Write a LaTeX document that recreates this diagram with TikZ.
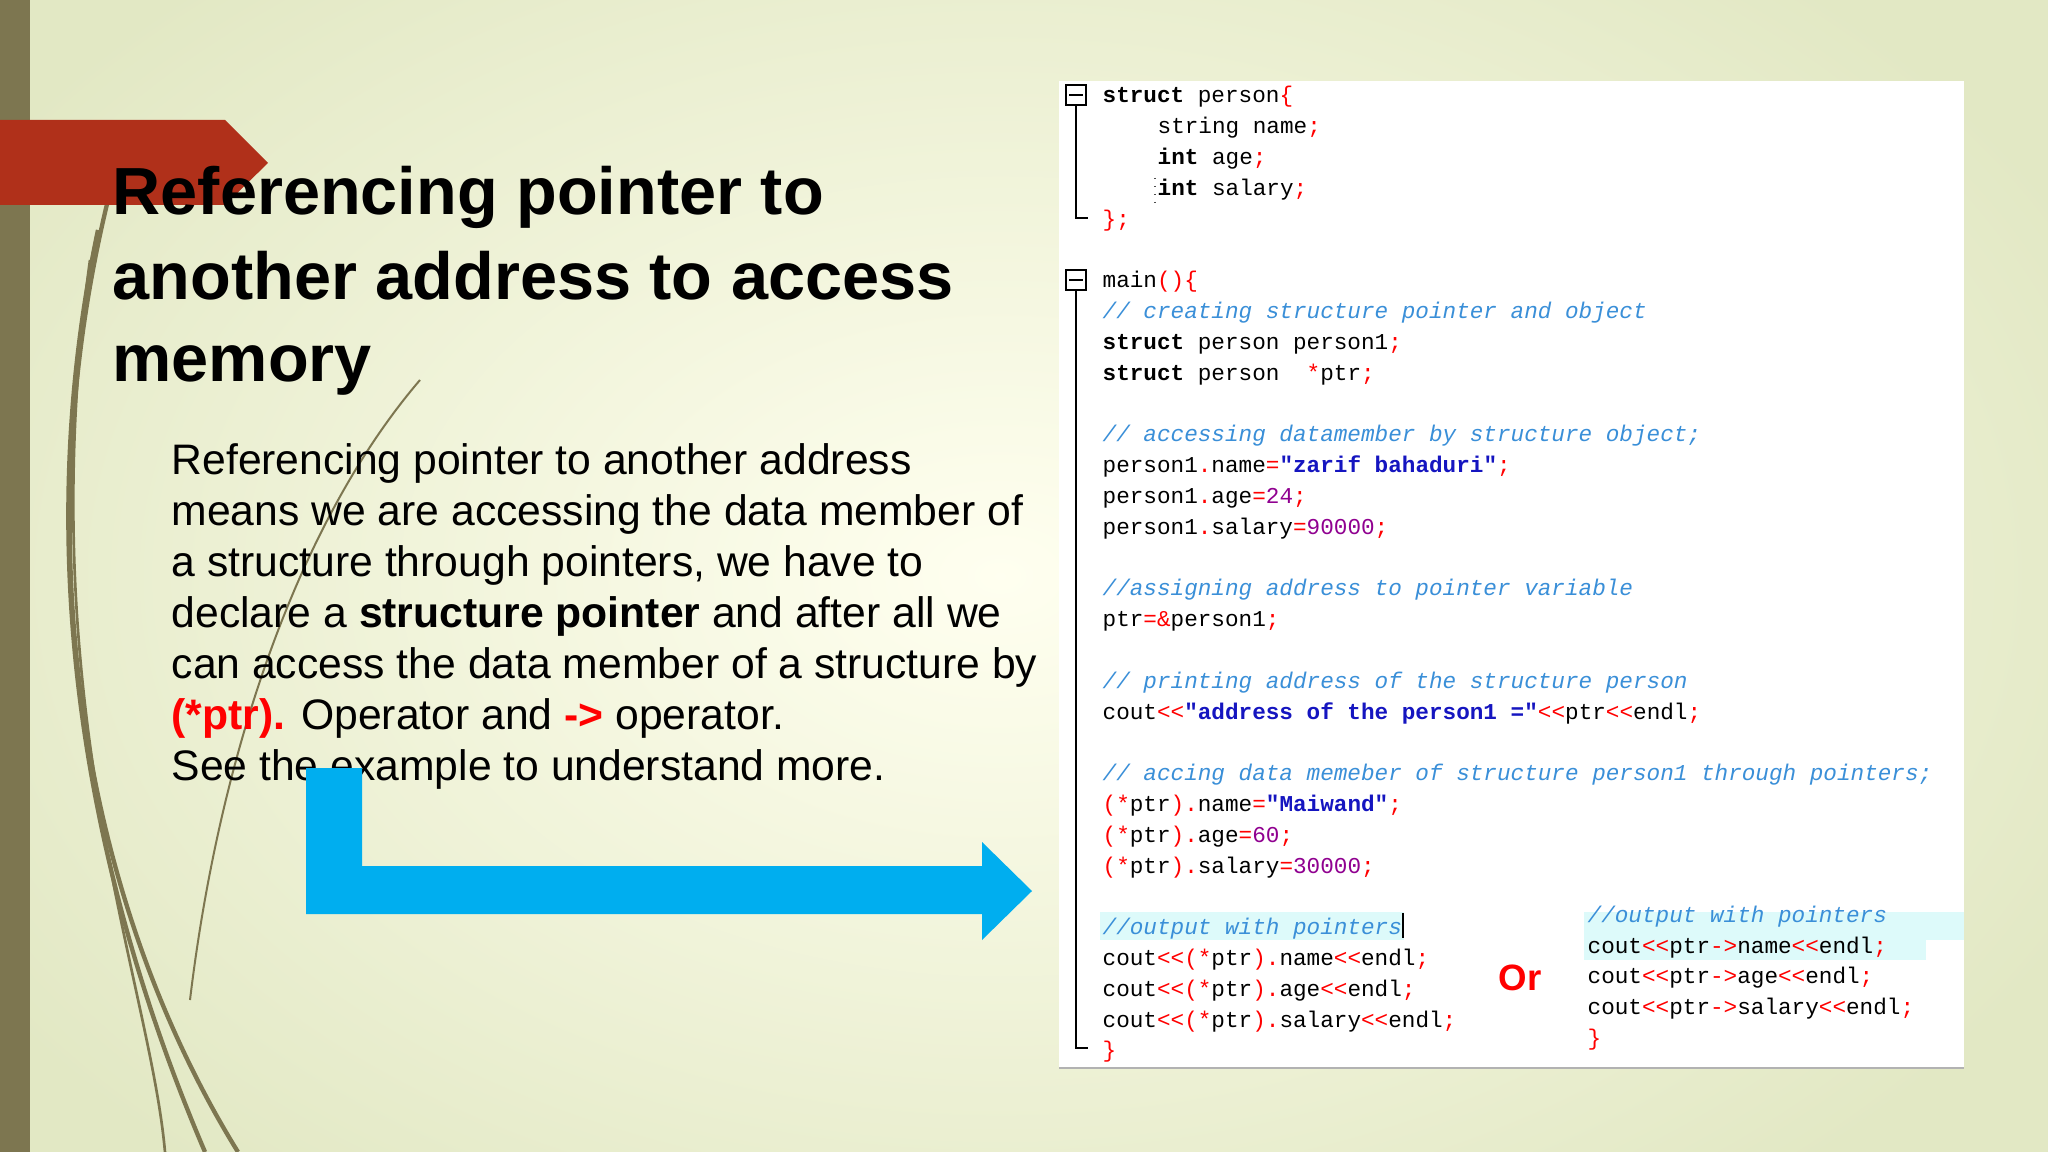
\documentclass[tikz,border=0pt]{standalone}
\usepackage{fontspec}
\setmainfont{Liberation Sans}
\setmonofont{Liberation Mono}
\definecolor{olive}{HTML}{7D7650}
\definecolor{ribbon}{HTML}{B0301A}
\definecolor{arrowblue}{HTML}{00AEEF}
\definecolor{cmt}{HTML}{3A8FD8}
\definecolor{strc}{HTML}{1515C0}
\definecolor{numc}{HTML}{900090}
\definecolor{hl}{HTML}{DDFAFA}
\newcommand{\kw}[1]{\textbf{#1}}
\newcommand{\cmx}[1]{\textcolor{cmt}{\itshape #1}}
\newcommand{\rp}[1]{\textcolor{red}{#1}}
\newcommand{\stq}[1]{\textcolor{strc}{\bfseries #1}}
\newcommand{\nmq}[1]{\textcolor{numc}{#1}}
\tikzset{codeline/.style={anchor=base west,inner sep=0pt,font=\ttfamily\fontsize{6.8}{8}\selectfont},
bodyline/.style={anchor=base west,inner sep=0pt,font=\fontsize{12.8}{15}\selectfont},
titleline/.style={anchor=base west,inner sep=0pt,font=\bfseries\fontsize{20}{24}\selectfont},
deco/.style={draw=olive,line width=1.3pt}}
\begin{document}
\begin{tikzpicture}[x=0.3pt,y=-0.3pt]
\useasboundingbox (0,0) rectangle (2048,1152);
\fill[color={rgb,255:red,226;green,232;blue,196}] (0,0) rectangle (2048,1152);
\shade[inner color=white!94!yellow, outer color={rgb,255:red,226;green,232;blue,196}] (1000,576) ellipse (1200 and 800);
\fill[olive] (0,0) rectangle (30,1152);
% decorative curves
\draw[deco] (108,200) .. controls (30,520) and (70,880) .. (238,1152);
\draw[deco] (98,230) .. controls (20,600) and (110,930) .. (205,1152);
\draw[deco,line width=0.8pt] (90,260) .. controls (30,700) and (150,980) .. (165,1152);
\draw[deco,line width=0.6pt] (420,380) .. controls (300,520) and (220,750) .. (190,1000);
% ribbon
\fill[ribbon] (0,120) -- (225,120) -- (268,163) -- (225,205) -- (0,205) -- cycle;
% title
\node[titleline] (t1) at (112,215) {Referencing pointer to};
\node[titleline] (t2) at (112,300) {another address to access};
\node[titleline] (t3) at (112,382) {memory};
% body
\node[bodyline] (b1) at (171,474) {Referencing pointer to another address};
\node[bodyline] (b2) at (171,525) {means we are accessing the data member of};
\node[bodyline] (b3) at (171,576) {a structure through pointers, we have to};
\node[bodyline] (b4) at (171,627) {declare a \textbf{structure pointer} and after all we};
\node[bodyline] (b5) at (171,678) {can access the data member of a structure by};
\node[bodyline] (b6) at (171,729) {\textcolor{red}{\textbf{(*ptr).}} Operator and \textcolor{red}{\textbf{->}} operator.};
\node[bodyline] (b7) at (171,780) {See the example to understand more.};
% blue arrow
\fill[arrowblue] (306,768) -- (362,768) -- (362,866) -- (982,866) -- (982,842) -- (1032,891) -- (982,940) -- (982,914) -- (306,914) -- cycle;
% code panel
\fill[white] (1059,81) rectangle (1964,1068);
\draw[gray!60] (1059,1068) -- (1964,1068);
\fill[hl] (1100,912) rectangle (1404,940);
\fill[hl] (1584,912) rectangle (1964,940);
\fill[hl] (1584,940) rectangle (1926,960);
% fold markers
\node[draw=black,line width=0.8pt,minimum size=20pt*0.3/0.3*0.3,inner sep=0pt,fill=white] (f1) at (1076,95) {};
\node[draw=black,line width=0.8pt,minimum size=6pt,inner sep=0pt,fill=white] (f2) at (1076,280) {};
\draw[line width=0.6pt] (f1.center) ++(-7,0) -- ++(14,0);
\draw[line width=0.6pt] (f2.center) ++(-7,0) -- ++(14,0);
\draw[line width=0.8pt] (f1.south) -- (1076,218) -- (1088,218);
\draw[line width=0.8pt] (f2.south) -- (1076,1048) -- (1088,1048);
\draw[black!70,dotted] (1155,178) -- (1155,205);
\draw[black] (1403,913) -- (1403,938);
% code lines
\newcommand{\cl}[3]{\node[codeline] at (#2,{103+30.8*#1}) {#3};}
\cl{0}{1102}{\kw{struct} person\rp{\{}}
\cl{1}{1157}{string name\rp{;}}
\cl{2}{1157}{\kw{int} age\rp{;}}
\cl{3}{1157}{\kw{int} salary\rp{;}}
\cl{4}{1102}{\rp{\};}}
\cl{6}{1102}{main\rp{()\{}}
\cl{7}{1102}{\cmx{// creating structure pointer and object}}
\cl{8}{1102}{\kw{struct} person person1\rp{;}}
\cl{9}{1102}{\kw{struct} person \ \rp{*}ptr\rp{;}}
\cl{11}{1102}{\cmx{// accessing datamember by structure object;}}
\cl{12}{1102}{person1\rp{.}name\rp{=}\stq{"zarif bahaduri"}\rp{;}}
\cl{13}{1102}{person1\rp{.}age\rp{=}\nmq{24}\rp{;}}
\cl{14}{1102}{person1\rp{.}salary\rp{=}\nmq{90000}\rp{;}}
\cl{16}{1102}{\cmx{//assigning address to pointer variable}}
\cl{17}{1102}{ptr\rp{=\&}person1\rp{;}}
\cl{19}{1102}{\cmx{// printing address of the structure person}}
\cl{20}{1102}{cout\rp{<{}<}\stq{"address of the person1 ="}\rp{<{}<}ptr\rp{<{}<}endl\rp{;}}
\cl{22}{1102}{\cmx{// accing data memeber of structure person1 through pointers;}}
\cl{23}{1102}{\rp{(*}ptr\rp{).}name\rp{=}\stq{"Maiwand"}\rp{;}}
\cl{24}{1102}{\rp{(*}ptr\rp{).}age\rp{=}\nmq{60}\rp{;}}
\cl{25}{1102}{\rp{(*}ptr\rp{).}salary\rp{=}\nmq{30000}\rp{;}}
\cl{27}{1102}{\cmx{//output with pointers}}
\cl{28}{1102}{cout\rp{<{}<(*}ptr\rp{).}name\rp{<{}<}endl\rp{;}}
\cl{29}{1102}{cout\rp{<{}<(*}ptr\rp{).}age\rp{<{}<}endl\rp{;}}
\cl{30}{1102}{cout\rp{<{}<(*}ptr\rp{).}salary\rp{<{}<}endl\rp{;}}
\cl{31}{1102}{\rp{\}}}
\cl{26.6}{1587}{\cmx{//output with pointers}}
\cl{27.6}{1587}{cout\rp{<{}<}ptr\rp{->}name\rp{<{}<}endl\rp{;}}
\cl{28.6}{1587}{cout\rp{<{}<}ptr\rp{->}age\rp{<{}<}endl\rp{;}}
\cl{29.6}{1587}{cout\rp{<{}<}ptr\rp{->}salary\rp{<{}<}endl\rp{;}}
\cl{30.6}{1587}{\rp{\}}}
\node[anchor=base west,inner sep=0pt,text=red,font=\bfseries\fontsize{11}{13}\selectfont] (or) at (1498,990) {Or};
\end{tikzpicture}
\end{document}
